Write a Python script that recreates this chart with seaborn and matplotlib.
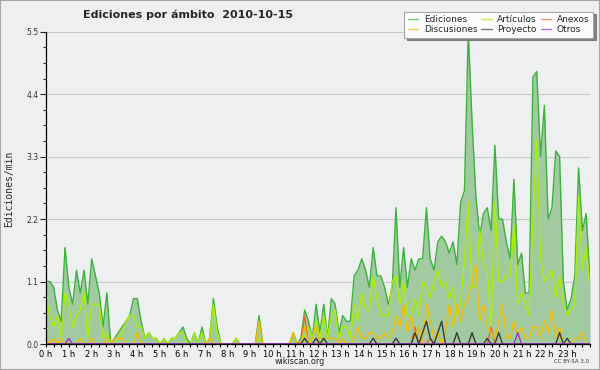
"""
Ediciones por ámbito (wikiscan) - 2010-10-15
Ediciones/min por intervalo de 10 minutos
"""
import numpy as np
import matplotlib
matplotlib.use("Agg")
import matplotlib.pyplot as plt
import seaborn as sns
from matplotlib.lines import Line2D
from matplotlib.patches import Rectangle
from matplotlib.ticker import MultipleLocator

# 144 intervalos de 10 min (una fila = 2 horas)
ediciones = [
    1.1, 1.1, 1.0, 0.6, 0.4, 1.7, 1.0, 0.7, 1.3, 0.9, 1.3, 0.7,
    1.5, 1.2, 0.9, 0.3, 0.9, 0.0, 0.1, 0.2, 0.3, 0.4, 0.5, 0.8,
    0.8, 0.4, 0.1, 0.2, 0.1, 0.1, 0.0, 0.1, 0.0, 0.1, 0.1, 0.2,
    0.3, 0.1, 0.0, 0.2, 0.0, 0.3, 0.0, 0.1, 0.8, 0.3, 0.0, 0.0,
    0.0, 0.0, 0.1, 0.0, 0.0, 0.0, 0.0, 0.0, 0.5, 0.0, 0.0, 0.0,
    0.0, 0.0, 0.0, 0.0, 0.0, 0.2, 0.0, 0.1, 0.6, 0.4, 0.1, 0.7,
    0.2, 0.7, 0.1, 0.8, 0.7, 0.2, 0.5, 0.4, 0.4, 1.2, 1.3, 1.5,
    1.3, 1.0, 1.7, 1.2, 1.2, 1.0, 0.7, 1.0, 2.4, 1.0, 1.7, 1.0,
    1.5, 1.3, 1.5, 1.5, 2.4, 1.5, 1.3, 1.8, 1.9, 1.8, 1.6, 1.8,
    1.4, 2.5, 2.7, 5.5, 3.9, 2.6, 1.9, 2.3, 2.4, 2.0, 3.5, 2.2,
    2.2, 1.8, 1.5, 2.9, 1.4, 1.6, 0.9, 0.9, 4.7, 4.8, 3.3, 4.2,
    2.2, 2.4, 3.4, 3.3, 1.1, 0.6, 0.8, 1.2, 3.1, 2.0, 2.3, 1.1,
]
articulos = [
    0.8, 0.5, 0.3, 0.5, 0.1, 0.9, 0.7, 0.3, 0.5, 0.6, 0.9, 0.1,
    0.7, 0.7, 0.7, 0.1, 0.2, 0.0, 0.0, 0.1, 0.2, 0.4, 0.5, 0.5,
    0.3, 0.3, 0.1, 0.2, 0.1, 0.1, 0.0, 0.1, 0.0, 0.1, 0.1, 0.2,
    0.2, 0.0, 0.0, 0.2, 0.0, 0.2, 0.0, 0.1, 0.7, 0.2, 0.0, 0.0,
    0.0, 0.0, 0.1, 0.0, 0.0, 0.0, 0.0, 0.0, 0.1, 0.0, 0.0, 0.0,
    0.0, 0.0, 0.0, 0.0, 0.0, 0.0, 0.0, 0.0, 0.1, 0.3, 0.1, 0.4,
    0.1, 0.5, 0.1, 0.5, 0.6, 0.1, 0.3, 0.3, 0.1, 0.7, 0.4, 0.9,
    0.6, 0.6, 1.2, 0.8, 0.5, 0.5, 0.5, 1.1, 1.2, 0.7, 1.1, 0.5,
    0.5, 0.8, 0.5, 1.1, 1.0, 0.8, 1.1, 1.3, 1.0, 1.1, 0.8, 1.0,
    0.5, 0.7, 1.5, 2.5, 1.0, 1.0, 2.0, 1.4, 1.3, 0.3, 2.5, 1.1,
    1.1, 1.2, 1.2, 2.1, 0.7, 0.9, 0.7, 0.5, 2.2, 3.6, 1.5, 1.1,
    1.2, 1.3, 0.8, 1.2, 0.7, 0.5, 0.6, 0.7, 2.6, 1.3, 1.7, 1.0,
]
discusiones = [
    0.1, 0.0, 0.1, 0.0, 0.1, 0.0, 0.0, 0.0, 0.0, 0.1, 0.0, 0.0,
    0.1, 0.0, 0.0, 0.0, 0.1, 0.0, 0.1, 0.1, 0.1, 0.0, 0.0, 0.0,
    0.2, 0.0, 0.0, 0.0, 0.0, 0.0, 0.0, 0.0, 0.0, 0.0, 0.0, 0.0,
    0.0, 0.0, 0.0, 0.0, 0.0, 0.0, 0.0, 0.1, 0.0, 0.0, 0.0, 0.0,
    0.0, 0.0, 0.0, 0.0, 0.0, 0.0, 0.0, 0.0, 0.4, 0.0, 0.0, 0.0,
    0.0, 0.0, 0.0, 0.0, 0.0, 0.2, 0.0, 0.0, 0.3, 0.0, 0.1, 0.3,
    0.0, 0.1, 0.1, 0.1, 0.1, 0.0, 0.1, 0.0, 0.0, 0.1, 0.3, 0.1,
    0.1, 0.2, 0.2, 0.1, 0.1, 0.2, 0.1, 0.2, 0.5, 0.3, 0.7, 0.2,
    0.5, 0.1, 0.3, 0.0, 0.7, 0.4, 0.1, 0.2, 0.0, 0.2, 0.7, 0.3,
    0.7, 0.4, 0.7, 0.8, 1.1, 1.4, 0.4, 0.7, 0.3, 0.2, 0.1, 0.4,
    0.7, 0.1, 0.1, 0.4, 0.1, 0.3, 0.1, 0.1, 0.3, 0.3, 0.1, 0.4,
    0.2, 0.6, 0.1, 0.3, 0.0, 0.0, 0.0, 0.1, 0.1, 0.2, 0.0, 0.0,
]
anexos = [
    0.0, 0.0, 0.0, 0.0, 0.0, 0.0, 0.0, 0.0, 0.0, 0.0, 0.0, 0.0,
    0.0, 0.0, 0.0, 0.0, 0.0, 0.0, 0.0, 0.0, 0.0, 0.0, 0.0, 0.0,
    0.0, 0.0, 0.0, 0.0, 0.0, 0.0, 0.0, 0.0, 0.0, 0.0, 0.0, 0.0,
    0.0, 0.0, 0.0, 0.0, 0.0, 0.0, 0.0, 0.0, 0.0, 0.0, 0.0, 0.0,
    0.0, 0.0, 0.0, 0.0, 0.0, 0.0, 0.0, 0.0, 0.0, 0.0, 0.0, 0.0,
    0.0, 0.0, 0.0, 0.0, 0.0, 0.0, 0.0, 0.0, 0.5, 0.0, 0.0, 0.0,
    0.0, 0.0, 0.0, 0.0, 0.0, 0.0, 0.0, 0.0, 0.0, 0.0, 0.0, 0.0,
    0.0, 0.0, 0.0, 0.0, 0.0, 0.0, 0.0, 0.0, 0.0, 0.0, 0.0, 0.0,
    0.0, 0.3, 0.0, 0.0, 0.0, 0.1, 0.0, 0.0, 0.0, 0.0, 0.0, 0.0,
    0.0, 0.0, 0.0, 0.0, 0.0, 0.0, 0.0, 0.0, 0.0, 0.3, 0.0, 0.0,
    0.0, 0.0, 0.0, 0.0, 0.0, 0.0, 0.0, 0.0, 0.0, 0.0, 0.0, 0.0,
    0.0, 0.0, 0.0, 0.0, 0.0, 0.0, 0.0, 0.0, 0.0, 0.0, 0.0, 0.0,
]
proyecto = [
    0.0, 0.0, 0.0, 0.0, 0.0, 0.0, 0.0, 0.0, 0.0, 0.0, 0.0, 0.0,
    0.0, 0.0, 0.0, 0.0, 0.0, 0.0, 0.0, 0.0, 0.0, 0.0, 0.0, 0.0,
    0.0, 0.0, 0.0, 0.0, 0.0, 0.0, 0.0, 0.0, 0.0, 0.0, 0.0, 0.0,
    0.0, 0.0, 0.0, 0.0, 0.0, 0.0, 0.0, 0.0, 0.0, 0.0, 0.0, 0.0,
    0.0, 0.0, 0.0, 0.0, 0.0, 0.0, 0.0, 0.0, 0.0, 0.0, 0.0, 0.0,
    0.0, 0.0, 0.0, 0.0, 0.0, 0.0, 0.0, 0.0, 0.1, 0.0, 0.0, 0.1,
    0.0, 0.1, 0.0, 0.0, 0.0, 0.0, 0.0, 0.0, 0.0, 0.0, 0.0, 0.0,
    0.0, 0.0, 0.1, 0.0, 0.0, 0.0, 0.0, 0.0, 0.1, 0.0, 0.0, 0.0,
    0.0, 0.2, 0.0, 0.2, 0.4, 0.1, 0.0, 0.2, 0.4, 0.0, 0.0, 0.0,
    0.2, 0.0, 0.0, 0.0, 0.2, 0.0, 0.0, 0.0, 0.1, 0.0, 0.0, 0.2,
    0.0, 0.0, 0.0, 0.0, 0.0, 0.0, 0.0, 0.0, 0.0, 0.0, 0.0, 0.0,
    0.0, 0.0, 0.0, 0.2, 0.0, 0.1, 0.0, 0.0, 0.0, 0.0, 0.0, 0.0,
]
otros = [
    0.0, 0.0, 0.0, 0.0, 0.0, 0.0, 0.1, 0.0, 0.0, 0.0, 0.0, 0.0,
    0.0, 0.0, 0.0, 0.0, 0.0, 0.0, 0.0, 0.0, 0.0, 0.0, 0.0, 0.0,
    0.0, 0.0, 0.0, 0.0, 0.0, 0.0, 0.0, 0.0, 0.0, 0.0, 0.0, 0.0,
    0.0, 0.0, 0.0, 0.0, 0.0, 0.0, 0.0, 0.0, 0.0, 0.0, 0.0, 0.0,
    0.0, 0.0, 0.0, 0.0, 0.0, 0.0, 0.0, 0.0, 0.0, 0.0, 0.0, 0.0,
    0.0, 0.0, 0.0, 0.0, 0.0, 0.0, 0.0, 0.0, 0.0, 0.0, 0.0, 0.0,
    0.0, 0.0, 0.0, 0.0, 0.0, 0.0, 0.0, 0.0, 0.0, 0.0, 0.0, 0.0,
    0.0, 0.0, 0.0, 0.0, 0.0, 0.0, 0.0, 0.0, 0.0, 0.0, 0.0, 0.0,
    0.0, 0.0, 0.0, 0.0, 0.0, 0.0, 0.0, 0.0, 0.0, 0.0, 0.0, 0.0,
    0.0, 0.0, 0.0, 0.0, 0.0, 0.0, 0.0, 0.0, 0.0, 0.0, 0.0, 0.0,
    0.0, 0.0, 0.0, 0.0, 0.2, 0.0, 0.0, 0.0, 0.0, 0.0, 0.0, 0.0,
    0.0, 0.0, 0.0, 0.0, 0.0, 0.0, 0.0, 0.0, 0.0, 0.0, 0.0, 0.0,
]

hour_labels = [f"{h} h" for h in range(24)]
y_ticks = [0.0, 1.1, 2.2, 3.3, 4.4, 5.5]

BG = '#eeeff1'
series = [
    ('Ediciones', ediciones, '#3cb23c'),
    ('Artículos', articulos, '#aaee00'),
    ('Anexos', anexos, '#f06a28'),
    ('Discusiones', discusiones, '#f2bd00'),
    ('Proyecto', proyecto, '#3a3a3a'),
    ('Otros', otros, '#9a30e0'),
]

sns.set_style("ticks", {'axes.facecolor': BG, 'figure.facecolor': BG,
                        'axes.edgecolor': 'black'})
plt.rcParams['font.family'] = ['DejaVu Sans']

fig = plt.figure(figsize=(6.0, 3.7), dpi=100)
ax = fig.add_axes([46 / 600, 26 / 370, 544 / 600, 312.3 / 370])

# los puntos cubren todo el eje, de 0 h a 24 h
x = np.linspace(0, 24, len(ediciones))

ax.fill_between(x, 0, ediciones, color='#a1caa0', lw=0, zorder=1.5)
for name, vals, col in series:
    sns.lineplot(x=x, y=vals, ax=ax, color=col, linewidth=1.0,
                 zorder=2, legend=False)

ax.set_xlim(0, 24)
ax.set_ylim(0, 5.5)
ax.set_xticks(range(24))
ax.set_xticklabels(hour_labels)
ax.xaxis.set_minor_locator(MultipleLocator(1 / 3))
ax.set_yticks(y_ticks)
ax.set_yticklabels([f"{v:.1f}" for v in y_ticks])
ax.yaxis.set_minor_locator(MultipleLocator(0.275))
ax.tick_params(axis='x', which='both', length=2.5, width=0.8, pad=1.5,
               labelsize=6, colors='black')
ax.tick_params(axis='y', which='major', length=4, width=0.8, pad=1.5,
               labelsize=5.5, labelcolor='#333333')
ax.tick_params(axis='y', which='minor', length=2, width=0.8)
ax.set_xlabel('')
ax.set_ylabel('')
ax.grid(axis='y', color='#c8c8c8', lw=0.8, zorder=0)
ax.set_axisbelow(True)
sns.despine(ax=ax, top=True, right=True)
for s in ('left', 'bottom'):
    ax.spines[s].set_linewidth(0.9)
    ax.spines[s].set_zorder(3)

fig.text(0.314, 0.961, 'Ediciones por ámbito  2010-10-15', ha='center',
         va='center', fontsize=8, fontweight='bold')
fig.text(0.016, 0.49, 'Ediciones/min', rotation=90, ha='center', va='center',
         fontsize=7, family='DejaVu Sans Mono')
fig.text(0.5, 0.022, 'wikiscan.org', ha='center', va='center', fontsize=5.8,
         color='#222222')
fig.text(0.982, 0.022, 'CC BY-SA 3.0', ha='right', va='center', fontsize=4,
         color='#333333')

# leyenda: 3 columnas, se rellena por columnas
order = ['Ediciones', 'Discusiones', 'Artículos', 'Proyecto', 'Anexos', 'Otros']
colors = {name: col for name, _, col in series}
handles = [Line2D([], [], color=colors[n], lw=1.0, alpha=0.7) for n in order]
leg = fig.legend(handles, order, ncol=3, loc='upper right',
                 bbox_to_anchor=(593 / 600, 1 - 11.5 / 370),
                 bbox_transform=fig.transFigure, fontsize=6.5,
                 frameon=True, fancybox=False, framealpha=1,
                 edgecolor='#a8a8a8', facecolor='#fcfcfc',
                 handlelength=1.2, handletextpad=0.6, columnspacing=0.4,
                 labelspacing=0.1, borderpad=0.4, borderaxespad=0,
                 shadow={'facecolor': '#808080', 'edgecolor': '#808080',
                         'alpha': 1.0})
leg.get_frame().set_linewidth(0.8)

fig.patches.append(Rectangle((0, 0), 1, 1, transform=fig.transFigure,
                             fill=False, edgecolor='#a8a8a8', lw=1.5))

fig.savefig('out.png', dpi=100, facecolor=BG)
